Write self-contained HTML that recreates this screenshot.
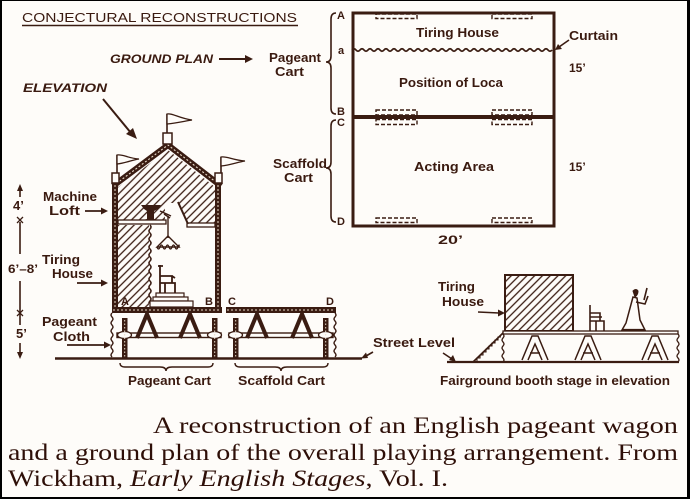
<!DOCTYPE html>
<html><head><meta charset="utf-8"><style>
html,body{margin:0;padding:0;background:#fefcf9;}
body{width:690px;height:499px;overflow:hidden;position:relative;}
svg{display:block;}
.l{font-family:"Liberation Sans",sans-serif;font-weight:bold;fill:#3a1a10;}
.c{font-family:"Liberation Serif",serif;fill:#2e0f08;font-size:23px;}
</style></head><body>
<svg width="690" height="499" viewBox="0 0 690 499" xmlns="http://www.w3.org/2000/svg">
<defs>
<pattern id="h" width="5.5" height="5.5" patternUnits="userSpaceOnUse" patternTransform="rotate(45)">
<line x1="1" y1="0" x2="1" y2="5.5" stroke="#3a1c12" stroke-width="1.3"/>
</pattern>
</defs>
<rect x="0" y="0" width="690" height="499" fill="#fefcf9"/>
<g stroke="#3a1c12" fill="none" stroke-linecap="butt">

<!-- Title underline -->
<line x1="22" y1="25.5" x2="298" y2="25.5" stroke-width="1.5"/>

<!-- ground plan arrow -->
<line x1="219" y1="59" x2="246" y2="59" stroke-width="2"/>
<polygon points="245,55 253,59 245,63" fill="#3a1c12" stroke="none"/>

<!-- braces -->
<path d="M336,13 Q331,13 331,19 L331,56 Q331,62 326,62 Q331,62 331,68 L331,108 Q331,114 336,114" stroke-width="1.6"/>
<path d="M336,120 Q331,120 331,126 L331,162 Q331,168 326,168 Q331,168 331,174 L331,216 Q331,222 336,222" stroke-width="1.6"/>

<!-- ground plan rect -->
<rect x="353" y="13" width="201" height="213" stroke-width="3"/>
<line x1="352" y1="117" x2="555" y2="117" stroke-width="4"/>
<path d="M352,50 q2,-2.5 4,0 t4,0 t4,0 t4,0 t4,0 t4,0 t4,0 t4,0 t4,0 t4,0 t4,0 t4,0 t4,0 t4,0 t4,0 t4,0 t4,0 t4,0 t4,0 t4,0 t4,0 t4,0 t4,0 t4,0 t4,0 t4,0 t4,0 t4,0 t4,0 t4,0 t4,0 t4,0 t4,0 t4,0 t4,0 t4,0 t4,0 t4,0 t4,0 t4,0 t4,0 t4,0 t4,0 t4,0 t4,0 t4,0 t4,0 t4,0 t4,0 t4,0" stroke-width="1.8"/>
<!-- dashed wheel marks -->
<g stroke-width="1.4" stroke-dasharray="4 2">
<rect x="376" y="14" width="41" height="4.5"/>
<rect x="492" y="14" width="40" height="4.5"/>
<rect x="376" y="110" width="41" height="5"/>
<rect x="492" y="110" width="40" height="5"/>
<rect x="376" y="119.5" width="41" height="5"/>
<rect x="492" y="119.5" width="40" height="5"/>
<rect x="376" y="218" width="41" height="4.5"/>
<rect x="492" y="218" width="40" height="4.5"/>
</g>
<!-- curtain arrow -->
<line x1="569" y1="40" x2="559" y2="47" stroke-width="1.6"/>
<polygon points="555,50 558,44 562,49" fill="#3a1c12" stroke="none"/>

<!-- elevation arrow -->
<line x1="103" y1="99" x2="131" y2="133" stroke-width="2"/>
<polygon points="137,139 126,134 133,128" fill="#3a1c12" stroke="none"/>

<!-- flags -->
<line x1="167" y1="114" x2="167" y2="133" stroke-width="1.6"/>
<path d="M167,114 C173,113 178,118 192,120 C185,121 178,123 167,124 Z" stroke-width="1.3" fill="#fefcf9"/>
<line x1="117" y1="155" x2="117" y2="173" stroke-width="1.6"/>
<path d="M117,155 C123,154 127,158 139,159 C132,160 126,163 117,164 Z" stroke-width="1.3" fill="#fefcf9"/>
<line x1="221" y1="157" x2="221" y2="173" stroke-width="1.6"/>
<path d="M221,157 C227,156 232,160 245,161 C238,162 231,165 221,166 Z" stroke-width="1.3" fill="#fefcf9"/>

<!-- hatch areas in house -->
<path d="M118,187 L168,150 L215,187 L215,223 L188,223 L179,203 L165,203 L165,220 L118,220 Z" fill="url(#h)" stroke="none"/>
<rect x="118" y="225" width="31" height="82" fill="url(#h)" stroke="none"/>

<!-- roof -->
<polyline points="113,186 168,145 221,186" stroke-width="6" stroke-linejoin="miter"/>
<polyline points="113,186 168,145 221,186" stroke="#e9dccb" stroke-width="1.1" stroke-dasharray="2 2"/>
<rect x="163" y="133" width="9" height="11" fill="#fefcf9" stroke-width="1.5"/>
<rect x="112" y="173" width="7" height="10" fill="#fefcf9" stroke-width="1.5"/>
<rect x="215" y="173" width="7" height="10" fill="#fefcf9" stroke-width="1.5"/>

<!-- walls -->
<rect x="112" y="183" width="6" height="126" fill="#3a1c12" stroke="none"/>
<rect x="215" y="183" width="6" height="126" fill="#3a1c12" stroke="none"/>
<line x1="115" y1="185" x2="115" y2="307" stroke="#e9dccb" stroke-width="1" stroke-dasharray="2 2"/>
<line x1="218" y1="185" x2="218" y2="307" stroke="#e9dccb" stroke-width="1" stroke-dasharray="2 2"/>

<!-- loft floor -->
<rect x="118" y="220" width="48" height="4" fill="#fefcf9" stroke-width="1.3"/>
<rect x="187" y="223" width="28" height="4" fill="#fefcf9" stroke-width="1.3"/>
<line x1="178" y1="202" x2="188" y2="224" stroke-width="2"/>
<line x1="164" y1="214" x2="170" y2="218" stroke-width="1.5"/>
<line x1="160" y1="211" x2="171" y2="216" stroke-width="1.5"/>
<!-- winch -->
<path d="M141,205 L161,205 L158,209 L154,211 L154,219 L158,220 L143,220 L147,219 L147,211 L144,209 Z" fill="#3a1c12" stroke="none"/>
<!-- chandelier -->
<line x1="168" y1="216" x2="168" y2="238" stroke-width="1.4"/>
<path d="M168,236 L157,247 L179,247 Z" stroke-width="1.4"/>
<path d="M157,247 q1.5,4 3,0 t3,0 t3,0 t3,0 t3,0 t3,0 t3,0 t1,0" stroke-width="1.3"/>
<!-- rope -->
<path d="M150,225 q2,2 0,4 t0,4 t0,4 t0,4 t0,4 t0,4 t0,4 t0,4 t0,4 t0,4 t0,4 t0,4 t0,4 t0,4 t0,4 t0,4 t0,4 t0,4 t0,4 t0,2" stroke-width="1.5"/>
<!-- chair -->
<path d="M160,265 L160,293 M158,266 L163,266 M160,276 L172,276 L172,283 M160,283 L175,283 L175,293 M165,283 L165,293 M172,276 L175,278" stroke-width="1.8"/>
<!-- steps -->
<rect x="156" y="293" width="28" height="4" fill="#fefcf9" stroke-width="1.2"/>
<rect x="153" y="297" width="35" height="4" fill="#fefcf9" stroke-width="1.2"/>
<rect x="150" y="301" width="43" height="6" fill="#fefcf9" stroke-width="1.2"/>

<!-- cart floors -->
<rect x="112" y="307" width="110" height="6" fill="#3a1c12" stroke="none"/>
<rect x="226" y="307" width="110" height="6" fill="#3a1c12" stroke="none"/>
<line x1="113" y1="310" x2="221" y2="310" stroke="#e9dccb" stroke-width="1.1" stroke-dasharray="2 2"/>
<line x1="227" y1="310" x2="335" y2="310" stroke="#e9dccb" stroke-width="1.1" stroke-dasharray="2 2"/>

<!-- axles -->
<rect x="117" y="333" width="104" height="4.5" fill="#fefcf9" stroke-width="1.4"/>
<rect x="229" y="333" width="104" height="4.5" fill="#fefcf9" stroke-width="1.4"/>
<!-- A frames -->
<g stroke-width="4" stroke-linejoin="round">
<path d="M137,338 L147,314 L157,338"/>
<path d="M180,338 L190,314 L200,338"/>
<path d="M247,338 L257,314 L267,338"/>
<path d="M292,338 L302,314 L312,338"/>
</g>
<!-- wheels -->
<g fill="#3a1c12" stroke="none">
<rect x="122" y="318" width="5.5" height="40"/>
<rect x="212" y="318" width="5.5" height="40"/>
<rect x="233" y="318" width="5.5" height="40"/>
<rect x="323" y="318" width="5.5" height="40"/>
</g>
<g stroke-width="1.3" fill="#fefcf9">
<ellipse cx="124.5" cy="335" rx="7" ry="3.5"/>
<ellipse cx="214.5" cy="335" rx="7" ry="3.5"/>
<ellipse cx="235.5" cy="335" rx="7" ry="3.5"/>
<ellipse cx="325.5" cy="335" rx="7" ry="3.5"/>
</g>
<g stroke="#e9dccb" stroke-width="1" stroke-dasharray="1.5 2">
<line x1="124.7" y1="320" x2="124.7" y2="357"/>
<line x1="214.7" y1="320" x2="214.7" y2="357"/>
<line x1="235.7" y1="320" x2="235.7" y2="357"/>
<line x1="325.7" y1="320" x2="325.7" y2="357"/>
</g>
<!-- pageant cloth -->
<path d="M112,313 q-2,2 0,4 t0,4 t0,4 t0,4 t0,4 t0,4 t0,4 t0,4 t0,4 t0,4 t0,4" stroke-width="1.4"/>
<path d="M335,313 q2,2 0,4 t0,4 t0,4 t0,4 t0,4 t0,4 t0,4 t0,4 t0,4 t0,4 t0,4" stroke-width="1.4"/>
<!-- ground -->
<line x1="55" y1="358.5" x2="362" y2="358.5" stroke-width="2.6"/>
<!-- cart braces -->
<path d="M120,363 q0,4 5,4 L160,367 q6,0 6,4 q0,-4 6,-4 L208,367 q5,0 5,-4" stroke-width="1.4"/>
<path d="M235,363 q0,4 5,4 L275,367 q6,0 6,4 q0,-4 6,-4 L323,367 q5,0 5,-4" stroke-width="1.4"/>

<!-- left label arrows -->
<line x1="85" y1="211" x2="102" y2="211" stroke-width="1.8"/>
<polygon points="101,207.5 108,211 101,214.5" fill="#3a1c12" stroke="none"/>
<line x1="77" y1="283" x2="102" y2="283" stroke-width="1.8"/>
<polygon points="101,279.5 108,283 101,286.5" fill="#3a1c12" stroke="none"/>
<line x1="67" y1="345" x2="105" y2="345" stroke-width="1.8"/>
<polygon points="104,341.5 111,345 104,348.5" fill="#3a1c12" stroke="none"/>

<!-- dimension line -->
<polygon points="17,191 20,184 23,191" fill="#3a1c12" stroke="none"/>
<line x1="20" y1="190" x2="20" y2="197" stroke-width="1.6"/>
<path d="M17,217 L20,220 L23,217 M17,223 L20,220 L23,223" stroke-width="1.3"/>
<line x1="20" y1="222" x2="20" y2="254" stroke-width="1.6"/>
<line x1="20" y1="281" x2="20" y2="325" stroke-width="1.6"/>
<path d="M17,310 L20,313 L23,310 M17,316 L20,313 L23,316" stroke-width="1.3"/>
<line x1="20" y1="343" x2="20" y2="353" stroke-width="1.6"/>
<polygon points="17,352 20,359 23,352" fill="#3a1c12" stroke="none"/>

<!-- street level arrows -->
<line x1="373" y1="352" x2="366" y2="356" stroke-width="1.6"/>
<polygon points="361,358.5 366,352.5 368,358" fill="#3a1c12" stroke="none"/>
<line x1="443" y1="353" x2="452" y2="359" stroke-width="1.6"/>
<polygon points="456,362 449,360 453,355" fill="#3a1c12" stroke="none"/>

<!-- fairground booth -->
<rect x="505" y="275" width="68" height="56" fill="url(#h)" stroke-width="2"/>
<rect x="503" y="331" width="175" height="3" fill="#fefcf9" stroke-width="1.3"/>
<line x1="447" y1="362" x2="679" y2="362" stroke-width="2.2"/>
<path d="M503,334 q2,2 0,4 t0,4 t0,4 t0,4 t0,4 t0,4 t0,4" stroke-width="1.3"/>
<path d="M678,334 q2,2 0,4 t0,4 t0,4 t0,4 t0,4 t0,4 t0,4" stroke-width="1.3"/>
<line x1="473" y1="362" x2="503" y2="333" stroke-width="1.6"/>
<path d="M477,361 v-3 h3 v-3 h3 v-3 h3 v-3 h3 v-3 h3 v-3 h3 v-3 h3 v-3 h3" stroke-width="1.1"/>
<g stroke-width="1.5" stroke-linejoin="miter">
<path d="M522,360 L532,336 L538,336 L548,360 M528,360 L535,344 L542,360 M530,353 L540,353"/>
<path d="M575,360 L585,336 L591,336 L601,360 M581,360 L588,344 L595,360 M583,353 L593,353"/>
<path d="M642,360 L652,336 L658,336 L668,360 M648,360 L655,344 L662,360 M650,353 L660,353"/>
</g>
<!-- booth chair -->
<path d="M590,305 L590,331 M590,313 L600,313 L600,321 M590,321 L604,321 L604,331 M596,321 L596,331 M590,317 L602,317" stroke-width="1.6"/>
<!-- figure -->
<path d="M633,291 q3,-3 5,0 q0,4 -3,6 z" fill="#3a1c12" stroke-width="1"/>
<path d="M633,297 L626,323 L622,330 L645,330 L640,320 L637,298 Z" fill="#fefcf9" stroke-width="1.5"/>
<path d="M636,302 L645,304 L648,296 M644,300 L647,288" stroke-width="1.6"/>
<path d="M622,330 L645,330" stroke-width="2.2"/>
<!-- booth tiring house arrow -->
<line x1="478" y1="312" x2="499" y2="313" stroke-width="1.6"/>
<polygon points="498,309.5 505,313 498,316.5" fill="#3a1c12" stroke="none"/>
</g>

<!-- labels -->
<text x="22" y="22" class="l" style="font-weight:normal" font-size="12.5" textLength="275" lengthAdjust="spacingAndGlyphs">CONJECTURAL RECONSTRUCTIONS</text>
<text x="110" y="63" class="l" font-size="12" font-style="italic" textLength="103" lengthAdjust="spacingAndGlyphs">GROUND PLAN</text>
<text x="269" y="62" class="l" font-size="13" textLength="52" lengthAdjust="spacingAndGlyphs">Pageant</text>
<text x="275" y="76" class="l" font-size="13" textLength="29" lengthAdjust="spacingAndGlyphs">Cart</text>
<text x="273" y="168" class="l" font-size="13" textLength="54" lengthAdjust="spacingAndGlyphs">Scaffold</text>
<text x="284" y="182" class="l" font-size="13" textLength="29" lengthAdjust="spacingAndGlyphs">Cart</text>
<text x="23" y="92" class="l" font-size="12" font-style="italic" textLength="84" lengthAdjust="spacingAndGlyphs">ELEVATION</text>

<text x="337" y="19" class="l" font-size="11">A</text>
<text x="338" y="54" class="l" font-size="11">a</text>
<text x="337" y="115" class="l" font-size="11">B</text>
<text x="337" y="126" class="l" font-size="11">C</text>
<text x="337" y="225" class="l" font-size="11">D</text>

<text x="416" y="37" class="l" font-size="13" textLength="83" lengthAdjust="spacingAndGlyphs">Tiring House</text>
<text x="399" y="87" class="l" font-size="13" textLength="104" lengthAdjust="spacingAndGlyphs">Position of Loca</text>
<text x="414" y="171" class="l" font-size="13" textLength="80" lengthAdjust="spacingAndGlyphs">Acting Area</text>
<text x="569" y="40" class="l" font-size="13" textLength="49" lengthAdjust="spacingAndGlyphs">Curtain</text>
<text x="569" y="72" class="l" font-size="12">15’</text>
<text x="569" y="171" class="l" font-size="12">15’</text>
<text x="438" y="244" class="l" font-size="12" textLength="25" lengthAdjust="spacingAndGlyphs">20’</text>

<text x="43" y="201" class="l" font-size="13" textLength="54" lengthAdjust="spacingAndGlyphs">Machine</text>
<text x="49" y="215" class="l" font-size="13" textLength="31" lengthAdjust="spacingAndGlyphs">Loft</text>
<text x="13" y="210" class="l" font-size="13">4’</text>
<text x="8" y="273" class="l" font-size="12" textLength="30" lengthAdjust="spacingAndGlyphs">6’–8’</text>
<text x="16" y="338" class="l" font-size="13">5’</text>
<text x="42" y="264" class="l" font-size="13" textLength="38" lengthAdjust="spacingAndGlyphs">Tiring</text>
<text x="52" y="278" class="l" font-size="13" textLength="41" lengthAdjust="spacingAndGlyphs">House</text>
<text x="42" y="326" class="l" font-size="13" textLength="55" lengthAdjust="spacingAndGlyphs">Pageant</text>
<text x="53" y="341" class="l" font-size="13" textLength="37" lengthAdjust="spacingAndGlyphs">Cloth</text>

<text x="121" y="305" class="l" font-size="11">A</text>
<text x="205" y="305" class="l" font-size="11">B</text>
<text x="228" y="305" class="l" font-size="11">C</text>
<text x="326" y="305" class="l" font-size="11">D</text>

<text x="128" y="385" class="l" font-size="13" textLength="83" lengthAdjust="spacingAndGlyphs">Pageant Cart</text>
<text x="238" y="385" class="l" font-size="13" textLength="87" lengthAdjust="spacingAndGlyphs">Scaffold Cart</text>
<text x="373" y="347" class="l" font-size="13" textLength="82" lengthAdjust="spacingAndGlyphs">Street Level</text>
<text x="438" y="291" class="l" font-size="13" textLength="37" lengthAdjust="spacingAndGlyphs">Tiring</text>
<text x="442" y="306" class="l" font-size="13" textLength="42" lengthAdjust="spacingAndGlyphs">House</text>
<text x="440" y="385" class="l" font-size="13" textLength="230" lengthAdjust="spacingAndGlyphs">Fairground booth stage in elevation</text>

<!-- caption -->
<text x="153" y="433" class="c" textLength="525" lengthAdjust="spacingAndGlyphs">A reconstruction of an English pageant wagon</text>
<text x="8" y="460" class="c" textLength="670" lengthAdjust="spacingAndGlyphs">and a ground plan of the overall playing arrangement.  From</text>
<text x="8" y="486" class="c" textLength="440" lengthAdjust="spacingAndGlyphs">Wickham, <tspan font-style="italic">Early English Stages</tspan>, Vol. I.</text>

<!-- frame border -->
<rect x="0" y="0" width="2" height="499" fill="#000"/>
<rect x="0" y="0" width="690" height="1" fill="#000"/>
<rect x="687" y="0" width="3" height="499" fill="#000"/>
<rect x="0" y="497" width="690" height="2" fill="#000"/>
</svg>
</body></html>
